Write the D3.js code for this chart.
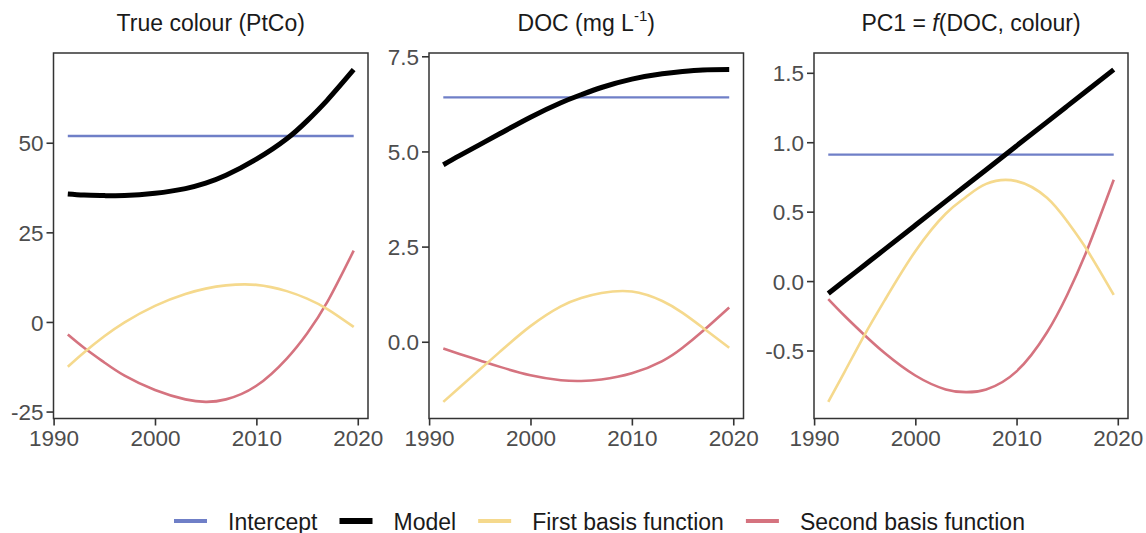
<!DOCTYPE html>
<html>
<head>
<meta charset="utf-8">
<script src="https://cdn.jsdelivr.net/npm/d3@7"></script>
<style>
  html, body { margin: 0; padding: 0; background: #ffffff; }
  svg { display: block; font-family: "Liberation Sans", Arial, sans-serif; }
</style>
</head>
<body>
<svg id="chart" width="1146" height="533"></svg>
<script>
// Sample years shared by every fitted curve
const years = [1991.4, 1993, 1995, 1997, 2000, 2003, 2005, 2007, 2010, 2013, 2015, 2017, 2019.6];
const xTicks = [1990, 2000, 2010, 2020];

// True colour (PtCo)
const colourIntercept = 51.9;
const colourModel  = [35.7, 35.4, 35.25, 35.25, 35.9, 37.2, 38.7, 40.9, 45.4, 51.1, 56.1, 61.9, 70.4];
const colourFirst  = [-12.5, -8.5, -4.0, -0.1, 4.5, 7.8, 9.3, 10.2, 10.35, 8.6, 6.5, 3.6, -1.4];
const colourSecond = [-3.5, -7.2, -11.3, -15.0, -19.0, -21.6, -22.3, -21.6, -17.8, -10.2, -3.2, 5.6, 19.9];
const colourTicks  = [-25, 0, 25, 50];

// DOC (mg L-1)
const docIntercept = 6.42;
const docModel  = [4.65, 4.89, 5.18, 5.47, 5.90, 6.28, 6.49, 6.68, 6.90, 7.04, 7.10, 7.14, 7.15];
const docFirst  = [-1.58, -1.20, -0.73, -0.26, 0.41, 0.93, 1.15, 1.28, 1.32, 1.07, 0.76, 0.37, -0.16];
const docSecond = [-0.18, -0.32, -0.49, -0.66, -0.88, -1.01, -1.03, -0.99, -0.83, -0.51, -0.16, 0.28, 0.90];
const docTicks  = [0, 2.5, 5, 7.5];

// PC1 = f(DOC, colour)
const pcIntercept = 0.911;
const pcModel  = [-0.090, 0.002, 0.116, 0.230, 0.402, 0.574, 0.688, 0.802, 0.974, 1.145, 1.260, 1.374, 1.523];
const pcFirst  = [-0.87, -0.655, -0.385, -0.135, 0.215, 0.485, 0.605, 0.70, 0.72, 0.60, 0.43, 0.22, -0.10];
const pcSecond = [-0.13, -0.25, -0.39, -0.52, -0.68, -0.78, -0.80, -0.78, -0.65, -0.37, -0.10, 0.23, 0.73];
const pcTicks  = [-0.5, 0, 0.5, 1.0, 1.5];

// Legend entries
const legendLabels = ["Intercept", "Model", "First basis function", "Second basis function"];
const seriesColours = { intercept: "#6f7fc7", model: "#000000", first: "#f5d98d", second: "#d5737f" };

const panels = [
  { model: colourModel, first: colourFirst, second: colourSecond, intercept: colourIntercept,
    ticks: colourTicks, fmt: d3.format("d"), left: 53.5, right: 368 },
  { model: docModel, first: docFirst, second: docSecond, intercept: docIntercept,
    ticks: docTicks, fmt: d3.format(".1f"), left: 429, right: 743.5 },
  { model: pcModel, first: pcFirst, second: pcSecond, intercept: pcIntercept,
    ticks: pcTicks, fmt: d3.format(".1f"), left: 814, right: 1128 }
];

const svg = d3.select("#chart");
const plotTop = 53, plotBottom = 418.5;
const tickLen = 7;
const axisColour = "#333333";
const tickTextColour = "#4d4d4d";

// Expand a range by 5% on each side
function padded(values) {
  const [lo, hi] = d3.extent(values);
  const p = (hi - lo) * 0.05;
  return [lo - p, hi + p];
}

// Plain hyphen for negative tick labels
const hyphen = f => v => f(v).replace("\u2212", "-");

const xDomain = padded(years);

panels.forEach((p, i) => {
  const g = svg.append("g");
  const x = d3.scaleLinear().domain(xDomain).range([p.left, p.right]);
  const allY = p.model.concat(p.first, p.second, [p.intercept]);
  const y = d3.scaleLinear().domain(padded(allY)).range([plotBottom, plotTop]);

  const line = d3.line()
    .x(d => x(d[0]))
    .y(d => y(d[1]))
    .curve(d3.curveNatural);

  const pairs = arr => years.map((yr, k) => [yr, arr[k]]);

  // Basis functions first, then intercept, then the model on top
  g.append("path").datum(pairs(p.second))
    .attr("d", line).attr("fill", "none")
    .attr("stroke", seriesColours.second).attr("stroke-width", 2.6);
  g.append("path").datum(pairs(p.first))
    .attr("d", line).attr("fill", "none")
    .attr("stroke", seriesColours.first).attr("stroke-width", 2.6);
  g.append("path").datum([[years[0], p.intercept], [years[years.length - 1], p.intercept]])
    .attr("d", line).attr("fill", "none")
    .attr("stroke", seriesColours.intercept).attr("stroke-width", 2.4);
  g.append("path").datum(pairs(p.model))
    .attr("d", line).attr("fill", "none")
    .attr("stroke", seriesColours.model).attr("stroke-width", 5);

  // Panel border
  g.append("rect")
    .attr("x", p.left).attr("y", plotTop)
    .attr("width", p.right - p.left).attr("height", plotBottom - plotTop)
    .attr("fill", "none").attr("stroke", axisColour).attr("stroke-width", 1.5);

  // Axes
  const yAxis = d3.axisLeft(y).tickValues(p.ticks).tickFormat(hyphen(p.fmt))
    .tickSize(tickLen).tickPadding(3);
  const ya = g.append("g").attr("transform", `translate(${p.left},0)`).call(yAxis);
  const xAxis = d3.axisBottom(x).tickValues(xTicks).tickFormat(d3.format("d"))
    .tickSize(tickLen).tickPadding(4);
  const xa = g.append("g").attr("transform", `translate(0,${plotBottom})`).call(xAxis);

  [ya, xa].forEach(a => {
    a.select(".domain").remove();
    a.selectAll(".tick line").attr("stroke", axisColour).attr("stroke-width", 1.6);
    a.selectAll(".tick text").attr("fill", tickTextColour)
      .attr("font-size", 22.5).attr("font-family", "'Liberation Sans', Arial, sans-serif");
  });
  ya.selectAll(".tick text").attr("dy", "0.36em");
  xa.selectAll(".tick text").attr("dy", "0.72em");

  // Panel titles
  const cx = (p.left + p.right) / 2;
  const t = g.append("text").attr("x", cx).attr("y", 31)
    .attr("text-anchor", "middle").attr("font-size", 23).attr("fill", "#1a1a1a");
  if (i === 0) {
    t.text("True colour (PtCo)");
  } else if (i === 1) {
    t.append("tspan").text("DOC (mg L");
    t.append("tspan").attr("font-size", 15).attr("dy", -10).text("-1");
    t.append("tspan").attr("dy", 10).text(")");
  } else {
    t.append("tspan").text("PC1 = ");
    t.append("tspan").attr("font-style", "italic").text("f");
    t.append("tspan").text("(DOC, colour)");
  }
});

// Legend along the bottom
const legendKeys = ["intercept", "model", "first", "second"];
const legendWidths = [4, 6, 4, 4];
const legend = svg.append("g");
let lx = 174;
const ly = 521;
legendLabels.forEach((label, k) => {
  legend.append("line")
    .attr("x1", lx).attr("x2", lx + 33)
    .attr("y1", ly).attr("y2", ly)
    .attr("stroke", seriesColours[legendKeys[k]])
    .attr("stroke-width", legendWidths[k]);
  const txt = legend.append("text")
    .attr("x", lx + 54).attr("y", ly + 8.5)
    .attr("font-size", 23).attr("fill", "#1a1a1a")
    .text(label);
  lx = lx + 54 + txt.node().getComputedTextLength() + 22;
});
</script>
</body>
</html>
